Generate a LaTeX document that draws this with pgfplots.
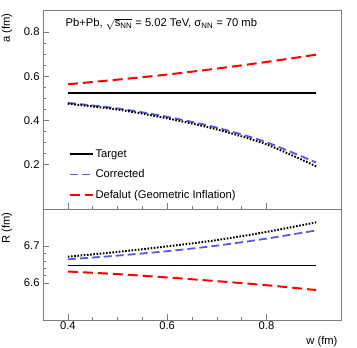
\documentclass[border=0pt]{standalone}
\usepackage{fontspec}
\setmainfont{Liberation Sans}
\usepackage{pgfplots}
\pgfplotsset{compat=1.18}

\definecolor{rootblue}{RGB}{88,88,228}
\definecolor{framegray}{RGB}{125,125,125}

\pgfplotsset{
  rootframe/.style={
    scale only axis,
    width=298bp,
    xmin=0.35, xmax=0.95,
    xtick={0.4,0.6,0.8},
    minor x tick num=3,
    xtick pos=bottom, ytick pos=left,
    tick align=inside,
    major tick length=6bp, minor tick length=3bp,
    axis line style={framegray, line width=0.8pt},
    every tick/.style={framegray, line width=0.6pt},
    /pgf/number format/assume math mode=true,
    /pgf/number format/fixed,
    /pgf/number format/precision=1,
    /pgf/number format/fixed zerofill,
    clip=false,
  },
}

\begin{document}
\begin{tikzpicture}[font=\fontsize{11.2bp}{13.4bp}\selectfont]
\useasboundingbox (-43bp,-28bp) rectangle (314bp,320bp);

% upper panel: a
\begin{axis}[
  rootframe,
  at={(0,111bp)}, anchor=south west,
  height=199bp,
  ymin=0, ymax=0.9,
  ytick={0.2,0.4,0.6,0.8},
  minor y tick num=3,
  xticklabels={},
  legend cell align=left,
  legend style={draw=none, fill=none, inner sep=0pt, row sep=7bp,
    at={(rel axis cs:0.085,0.31)}, anchor=north west},
  legend image code/.code={\draw[#1] (0bp,0bp) -- (23bp,0bp);},
]
\addplot[black, line width=1.5pt] coordinates {
  (0.4,0.525) (0.9,0.525)
};
\addlegendentry{Target}
\addplot[rootblue, line width=1.8pt, dash pattern=on 8bp off 4bp, smooth] coordinates {
  (0.4,0.480) (0.5,0.455) (0.6,0.417) (0.7,0.368) (0.8,0.302) (0.9,0.210)
};
\addlegendentry{Corrected}
\addplot[red, line width=2pt, dash pattern=on 10bp off 5bp, smooth] coordinates {
  (0.4,0.564) (0.5,0.585) (0.6,0.608) (0.7,0.635) (0.8,0.665) (0.9,0.698)
};
\addlegendentry{Defalut (Geometric Inflation)}
\addplot[black, line width=2pt, dash pattern=on 1.6bp off 1.6bp, smooth, forget plot] coordinates {
  (0.4,0.476) (0.5,0.450) (0.6,0.410) (0.7,0.360) (0.8,0.292) (0.9,0.193)
};
\node[anchor=west] at (rel axis cs:0.064,0.93)
  {Pb+Pb, $\sqrt{\mathrm{s}_{\mathrm{NN}}}$ = 5.02 TeV, σ\textsubscript{NN} = 70 mb};
\node[rotate=90, anchor=east] at ([xshift=-36bp]rel axis cs:0,1) {a (fm)};
\end{axis}

% lower panel: R
\begin{axis}[
  rootframe,
  at={(0,0)}, anchor=south west,
  height=111bp,
  ymin=6.5, ymax=6.8,
  ytick={6.6,6.7},
  minor y tick num=4,
  xticklabel style={yshift=1.5bp},
]
\addplot[black, line width=1.6pt] coordinates {
  (0.4,6.647) (0.9,6.647)
};
\addplot[rootblue, line width=1.8pt, dash pattern=on 8bp off 4bp, smooth] coordinates {
  (0.4,6.664) (0.5,6.674) (0.6,6.686) (0.7,6.701) (0.8,6.720) (0.9,6.742)
};
\addplot[red, line width=2pt, dash pattern=on 10bp off 5bp, smooth] coordinates {
  (0.4,6.631) (0.5,6.624) (0.6,6.615) (0.7,6.605) (0.8,6.594) (0.9,6.581)
};
\addplot[black, line width=2pt, dash pattern=on 1.6bp off 1.6bp, smooth] coordinates {
  (0.4,6.671) (0.5,6.684) (0.6,6.699) (0.7,6.716) (0.8,6.738) (0.9,6.764)
};
\node[rotate=90, anchor=east] at ([xshift=-36bp]rel axis cs:0,1) {R (fm)};
\node[anchor=east] at ([yshift=-22bp]rel axis cs:1,0) {w (fm)};
\end{axis}
\end{tikzpicture}
\end{document}
